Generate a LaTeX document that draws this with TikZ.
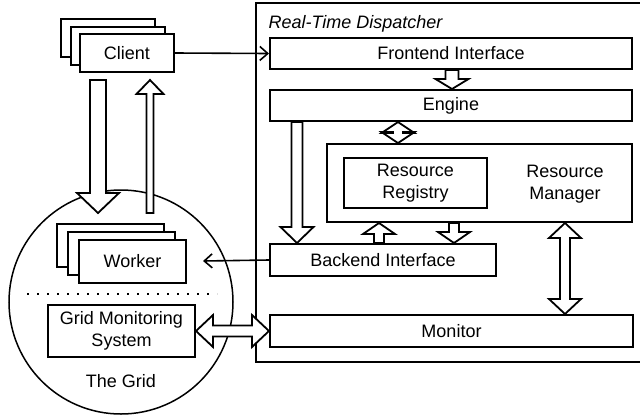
\documentclass[tikz,border=0pt]{standalone}
\usepackage{fontspec}
\setmainfont{Liberation Sans}
\usetikzlibrary{arrows.meta, calc, shadows}
\tikzset{
  unit/.style={draw, line width=2pt, fill=white, inner sep=0pt, align=center},
  flow/.style={draw, line width=1.8pt, fill=white, line join=miter},
  signal/.style={-{Straight Barb[length=8pt, width=14pt]}, line width=1.6pt},
  every node/.append style={font=\fontsize{18}{22}\selectfont}
}
\newcommand{\flowarrow}[5]{%
  \draw[flow] let \p1=($(#2)-(#1)$), \n1={veclen(\x1,\y1)}, \n2={atan2(\y1,\x1)} in
    [shift={(#1)}, rotate=\n2] (0,-#3) -- ({\n1-#5},-#3) -- ({\n1-#5},-#4) -- (\n1,0)
    -- ({\n1-#5},#4) -- ({\n1-#5},#3) -- (0,#3) -- cycle;}
\newcommand{\flowboth}[5]{%
  \draw[flow] let \p1=($(#2)-(#1)$), \n1={veclen(\x1,\y1)}, \n2={atan2(\y1,\x1)} in
    [shift={(#1)}, rotate=\n2] (0,0) -- (#5,-#4) -- (#5,-#3) -- ({\n1-#5},-#3) -- ({\n1-#5},-#4)
    -- (\n1,0) -- ({\n1-#5},#4) -- ({\n1-#5},#3) -- (#5,#3) -- (#5,#4) -- cycle;}

\begin{document}
\begin{tikzpicture}[x=1pt, y=-1pt]
\useasboundingbox (0,0) rectangle (640,416);
\node[unit, minimum width=389pt, minimum height=359pt] (rtd) at (450.5,182.5) {};
\node[anchor=base west, font=\fontsize{18}{22}\selectfont\itshape] (rtdname) at (265,28) {Real-Time Dispatcher};
\node[unit, minimum width=362pt, minimum height=31pt] (front) at (451,53.5) {Frontend Interface};
\node[unit, minimum width=362pt, minimum height=31pt] (engine) at (451,105.5) {Engine};
\node[unit, minimum width=305pt, minimum height=78pt] (rm) at (479.5,183) {};
\node[align=center] (rmname) at (565,184) {Resource\\Manager};
\node[unit, minimum width=143pt, minimum height=50pt] (reg) at (415.5,183) {Resource\\Registry};
\node[unit, minimum width=226pt, minimum height=32pt] (back) at (383,260) {Backend Interface};
\node[unit, minimum width=363pt, minimum height=32pt] (mon) at (451.5,331) {Monitor};
\node[circle, draw, line width=1.5pt, fill=white, minimum size=224pt] (grid) at (121,302) {};
\node (gridname) at (121,381) {The Grid};
\node[unit, double copy shadow={shadow xshift=-9.5pt, shadow yshift=7.5pt}, minimum width=94pt, minimum height=38pt] (client) at (127,53) {Client};
\node[unit, double copy shadow={shadow xshift=-11pt, shadow yshift=8pt}, minimum width=107pt, minimum height=43pt] (worker) at (132.5,261) {Worker};
\draw[line width=2pt, dash pattern=on 2pt off 8pt] (27,294) -- (217,294);
\node[unit, minimum width=147pt, minimum height=52pt] (gms) at (121.5,331) {Grid Monitoring\\System};
\coordinate (clientout) at (98,80);
\coordinate (gridin) at (98,213);
\coordinate (gridout) at (150,213);
\coordinate (clientin) at (150,80);
\flowarrow{clientout}{gridin}{8}{21}{20}
\flowarrow{gridout}{clientin}{3.5}{13.5}{14}
\flowarrow{452,0 |- front.south}{452,0 |- engine.north}{6.5}{16.5}{10}
\flowboth{398,0 |- engine.south}{398,0 |- rm.north}{5}{16.5}{11}
\flowarrow{297,0 |- engine.south}{297,0 |- back.north}{5.5}{16.5}{16}
\flowarrow{379,0 |- back.north}{379,0 |- rm.south}{5}{16}{11}
\flowarrow{454,0 |- rm.south}{454,0 |- back.north}{5}{16}{11}
\flowboth{565,0 |- rm.south}{565,0 |- mon.north}{5}{16}{15}
\flowboth{gms.east}{mon.west}{5.5}{16}{17}
\draw[signal] (client.east) -- (front.west);
\draw[signal] (back.west) -- ([xshift=16pt]worker.east);
\end{tikzpicture}
\end{document}
